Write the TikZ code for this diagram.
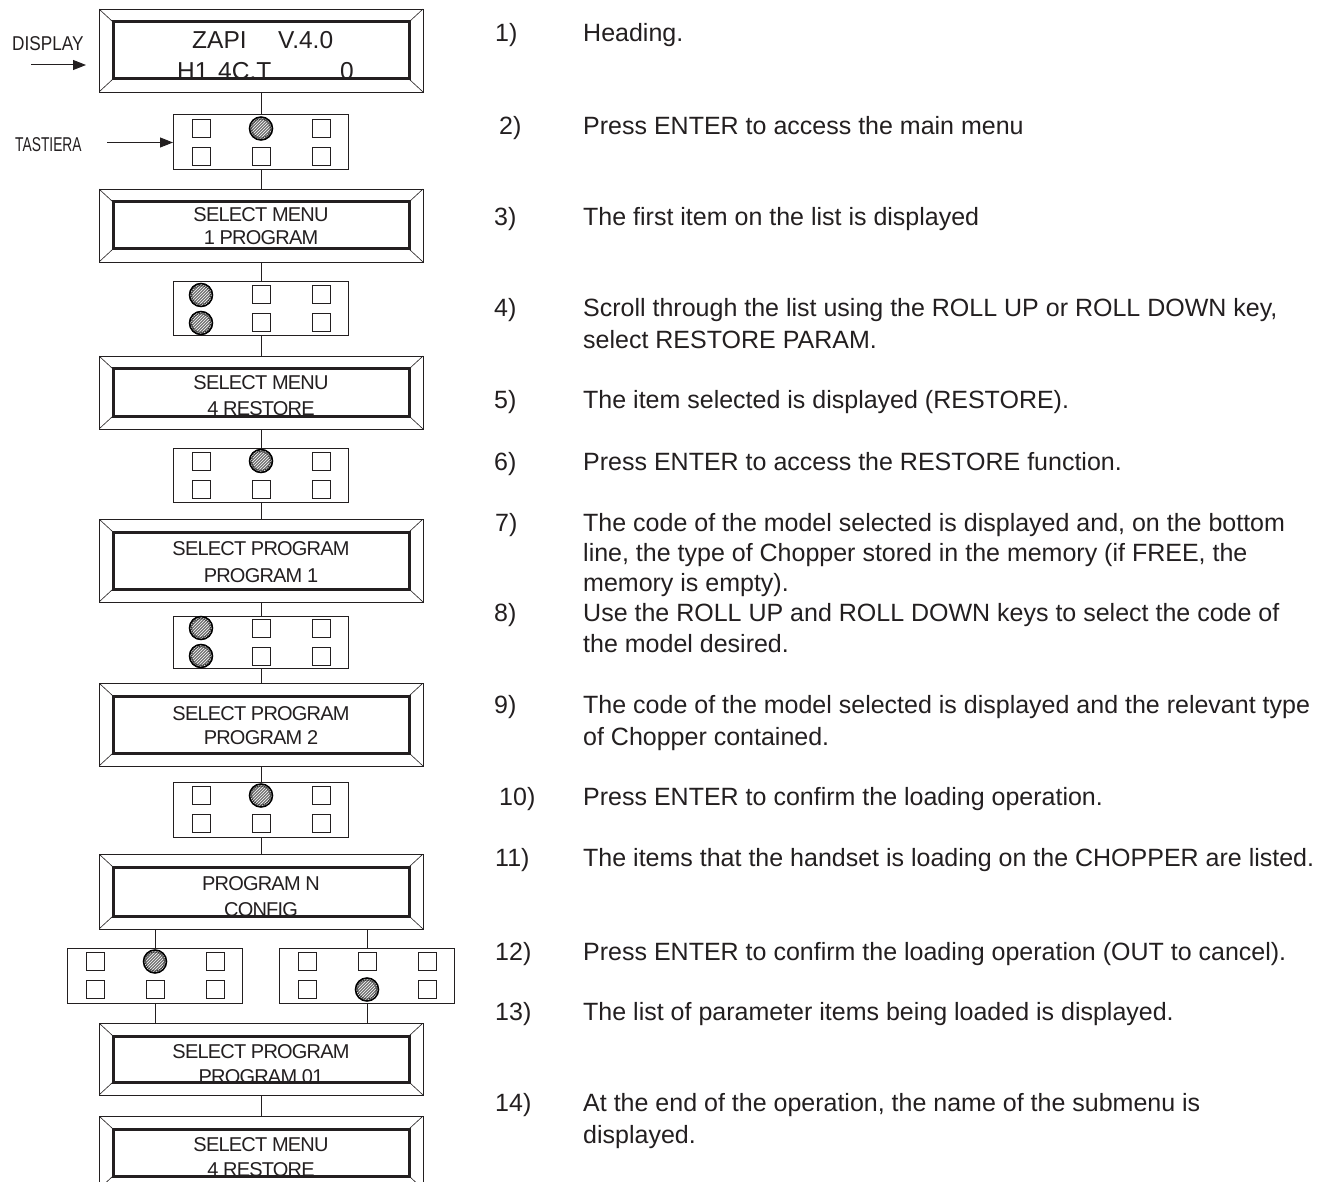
\documentclass[tikz,border=0pt]{standalone}
\usepackage{fontspec}
\usepackage{graphicx}
\setmainfont{Liberation Sans}
\newfontfamily\lcdfont[LetterSpace=-4]{Liberation Sans}
\usetikzlibrary{arrows.meta,patterns,calc}
\definecolor{ink}{HTML}{231F20}
\tikzset{
  conn/.style={draw=ink, line width=1pt},
  pad/.style={draw=ink, line width=1pt, minimum width=175pt, minimum height=#1, inner sep=0pt},
  keysq/.style={draw=ink, line width=1pt},
  lcd/.style={draw=ink, line width=0.9pt, minimum width=324pt, minimum height=#1, inner sep=0pt,
    path picture={
      \draw[ink, line width=3pt] ([shift={(14pt,-13pt)}]path picture bounding box.north west) rectangle ([shift={(-14pt,13pt)}]path picture bounding box.south east);
      \draw[ink, line width=0.6pt] (path picture bounding box.north west) -- ++(14pt,-13pt)
        (path picture bounding box.north east) -- ++(-14pt,-13pt)
        (path picture bounding box.south west) -- ++(14pt,13pt)
        (path picture bounding box.south east) -- ++(-14pt,13pt);
    }},
  lcdtxt/.style={text=ink, inner sep=0pt, anchor=base, font=\lcdfont\fontsize{20pt}{24pt}\selectfont},
  headtxt/.style={text=ink, inner sep=0pt, anchor=base west, font=\fontsize{24.5pt}{28pt}\selectfont},
  item/.style={text=ink, inner sep=0pt, anchor=base west, font=\fontsize{25pt}{30pt}\selectfont},
  lbl/.style={text=ink, inner sep=0pt, anchor=base west, font=\fontsize{20pt}{23pt}\selectfont},
  arr/.style={draw=ink, line width=1pt, -{Triangle[length=13pt,width=10pt]}}
}
% keypad: name, x, y, height, squares list, circles list
\newcommand\zpad[6]{%
  \node[pad=#4] (#1) at (#2,#3) {};
  \foreach \a/\b in {#5}{\draw[keysq] ({#2+\a-9},{#3+\b-9}) rectangle ({#2+\a+9},{#3+\b+9});}
  \foreach \a/\b in {#6}{%
    \fill[black!55] ({#2+\a},{#3+\b}) circle[radius=12pt];
    \fill[pattern=north east lines, pattern color=white] ({#2+\a},{#3+\b}) circle[radius=11pt];
    \draw[black, line width=1.5pt] ({#2+\a},{#3+\b}) circle[radius=11.5pt];
    \draw[black!80, line width=1.2pt, densely dotted] ({#2+\a},{#3+\b}) circle[radius=9.5pt];}%
}
\begin{document}
\begin{tikzpicture}[x=1pt,y=-1pt]
\useasboundingbox (0,0) rectangle (1326,1182);
\fill[white] (0,0) rectangle (1326,1182);
\clip (0,0) rectangle (1326,1182);

% ---------- texts inside the displays (drawn first, frames drawn over) ----------
\node[headtxt] (t1a) at (192,49) {ZAPI};
\node[headtxt] (t1b) at (278,49) {V.4.0};
\node[headtxt] (t1c) at (177,80) {H1};
\node[headtxt] (t1d) at (218,80) {4C.T};
\node[headtxt] (t1e) at (340,80) {0};

\node[lcdtxt] (t2a) at (261,222) {SELECT MENU};
\node[lcdtxt] (t2b) at (261,245) {1 PROGRAM};
\node[lcdtxt] (t3a) at (261,389) {SELECT MENU};
\node[lcdtxt] (t3b) at (261,416) {4 RESTORE};
\node[lcdtxt] (t4a) at (261,555) {SELECT PROGRAM};
\node[lcdtxt] (t4b) at (261,582) {PROGRAM 1};
\node[lcdtxt] (t5a) at (261,720) {SELECT PROGRAM};
\node[lcdtxt] (t5b) at (261,744) {PROGRAM 2};
\node[lcdtxt] (t6a) at (261,890) {PROGRAM N};
\node[lcdtxt] (t6b) at (261,916) {CONFIG};
\node[lcdtxt] (t7a) at (261,1058) {SELECT PROGRAM};
\node[lcdtxt] (t7b) at (261,1083) {PROGRAM 01};
\node[lcdtxt] (t8a) at (261,1151) {SELECT MENU};
\node[lcdtxt] (t8b) at (261,1176) {4 RESTORE};

% ---------- display frames ----------
\node[lcd=83pt] (b1) at (261,50.5) {};
\node[lcd=73pt] (b2) at (261,225.5) {};
\node[lcd=73pt] (b3) at (261,392.5) {};
\node[lcd=83pt] (b4) at (261,560.5) {};
\node[lcd=83pt] (b5) at (261,724.5) {};
\node[lcd=75pt] (b6) at (261,891.5) {};
\node[lcd=72pt] (b7) at (261,1059) {};
\node[lcd=73pt] (b8) at (261,1152.5) {};

% ---------- keypads ----------
\zpad{kp1}{261}{142.5}{55pt}{-60/-14,60/-14,-60/14,0/14,60/14}{0/-14}
\zpad{kp2}{261}{309}{54pt}{0/-14,60/-14,0/14,60/14}{-60/-14,-60/14}
\zpad{kp3}{261}{475}{54pt}{-60/-14,60/-14,-60/14,0/14,60/14}{0/-14}
\zpad{kp4}{261}{642}{52pt}{0/-14,60/-14,0/14,60/14}{-60/-14,-60/14}
\zpad{kp5}{261}{809.5}{55pt}{-60/-14,60/-14,-60/14,0/14,60/14}{0/-14}
\zpad{kpL}{155}{975.5}{55pt}{-60/-14,60/-14,-60/14,0/14,60/14}{0/-14}
\zpad{kpR}{367}{975.5}{55pt}{-60/-14,0/-14,60/-14,-60/14,60/14}{0/14}

% ---------- connectors ----------
\draw[conn] (b1.south) -- (kp1.north);
\draw[conn] (kp1.south) -- (b2.north);
\draw[conn] (b2.south) -- (kp2.north);
\draw[conn] (kp2.south) -- (b3.north);
\draw[conn] (b3.south) -- (kp3.north);
\draw[conn] (kp3.south) -- (b4.north);
\draw[conn] (b4.south) -- (kp4.north);
\draw[conn] (kp4.south) -- (b5.north);
\draw[conn] (b5.south) -- (kp5.north);
\draw[conn] (kp5.south) -- (b6.north);
\draw[conn] (kpL.north |- b6.south) -- (kpL.north);
\draw[conn] (kpR.north |- b6.south) -- (kpR.north);
\draw[conn] (kpL.south) -- (kpL.south |- b7.north);
\draw[conn] (kpR.south) -- (kpR.south |- b7.north);
\draw[conn] (b7.south) -- (b8.north);

% ---------- side labels ----------
\node[lbl] (ldisp) at (12,51) {\scalebox{0.86}[1]{DISPLAY}};
\coordinate (da) at (31,65);
\coordinate (db) at (86,65);
\draw[arr] (da) -- (db);
\node[lbl] (ltast) at (15,151.5) {\scalebox{0.69}[1]{TASTIERA}};
\coordinate (ta) at (107,142.5);
\draw[arr] (ta) -- (kp1.west);

% ---------- right-hand descriptions ----------
\node[item] (n1) at (495,41.5) {1)};
\node[item] (d1) at (583,41.5) {Heading.};
\node[item] (n2) at (499,134.5) {2)};
\node[item] (d2) at (583,134.5) {Press ENTER to access the main menu};
\node[item] (n3) at (494,225.5) {3)};
\node[item] (d3) at (583,225.5) {The first item on the list is displayed};
\node[item] (n4) at (494,316.5) {4)};
\node[item] (d4a) at (583,316.5) {Scroll through the list using the ROLL UP or ROLL DOWN key,};
\node[item] (d4b) at (583,348.5) {select RESTORE PARAM.};
\node[item] (n5) at (494,408.5) {5)};
\node[item] (d5) at (583,408.5) {The item selected is displayed (RESTORE).};
\node[item] (n6) at (494,470.5) {6)};
\node[item] (d6) at (583,470.5) {Press ENTER to access the RESTORE function.};
\node[item] (n7) at (495,531.5) {7)};
\node[item] (d7a) at (583,531.5) {The code of the model selected is displayed and, on the bottom};
\node[item] (d7b) at (583,561.5) {line, the type of Chopper stored in the memory (if FREE, the};
\node[item] (d7c) at (583,591.5) {memory is empty).};
\node[item] (n8) at (494,621.5) {8)};
\node[item] (d8a) at (583,621.5) {Use the ROLL UP and ROLL DOWN keys to select the code of};
\node[item] (d8b) at (583,652.5) {the model desired.};
\node[item] (n9) at (494,713.5) {9)};
\node[item] (d9a) at (583,713.5) {The code of the model selected is displayed and the relevant type};
\node[item] (d9b) at (583,745.5) {of Chopper contained.};
\node[item] (n10) at (499,805.5) {10)};
\node[item] (d10) at (583,805.5) {Press ENTER to confirm the loading operation.};
\node[item] (n11) at (495,866.5) {11)};
\node[item] (d11) at (583,866.5) {The items that the handset is loading on the CHOPPER are listed.};
\node[item] (n12) at (495,960.5) {12)};
\node[item] (d12) at (583,960.5) {Press ENTER to confirm the loading operation (OUT to cancel).};
\node[item] (n13) at (495,1020.5) {13)};
\node[item] (d13) at (583,1020.5) {The list of parameter items being loaded is displayed.};
\node[item] (n14) at (495,1111.5) {14)};
\node[item] (d14a) at (583,1111.5) {At the end of the operation, the name of the submenu is};
\node[item] (d14b) at (583,1143.5) {displayed.};
\end{tikzpicture}
\end{document}
